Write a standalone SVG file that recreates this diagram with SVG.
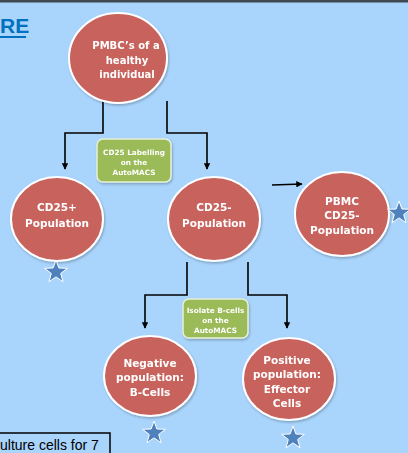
<svg xmlns="http://www.w3.org/2000/svg" width="408" height="453" viewBox="0 0 408 453">
<defs>
<style>
.node ellipse{fill:#c8625c;stroke:#ffffff;stroke-width:2}
.nt{font-family:"DejaVu Sans",Verdana,sans-serif;font-weight:bold;font-size:10.5px;fill:#ffffff;text-anchor:middle}
.box rect{fill:#9bbb59;stroke:#e6f0d6;stroke-width:1.5}
.bt{font-family:"DejaVu Sans",Verdana,sans-serif;font-weight:bold;font-size:7.3px;fill:#ffffff;text-anchor:middle}
.conn{fill:none;stroke:#000000;stroke-width:1.6}
.star{fill:#4f81bd;stroke:#ffffff;stroke-width:1}
</style>
<marker id="ah" viewBox="0 0 10 10" refX="9" refY="5" markerWidth="4" markerHeight="4" orient="auto">
<path d="M0,0 L10,5 L0,10 Z" fill="#000"/>
</marker>
<path id="st" d="M0,-12 L2.9,-4 L11.4,-3.7 L4.7,1.5 L7,9.7 L0,4.9 L-7,9.7 L-4.7,1.5 L-11.4,-3.7 L-2.9,-4 Z"/>
<filter id="sh" x="-20%" y="-20%" width="140%" height="140%">
<feDropShadow dx="1" dy="1.5" stdDeviation="1.2" flood-color="#000" flood-opacity="0.25"/>
</filter>
</defs>
<rect x="0" y="0" width="408" height="453" fill="#a9d4fc"/>
<rect x="0" y="0" width="408" height="2.5" fill="#404850"/>
<g id="title">
<text x="0" y="33" font-family="'Liberation Sans',Arial,sans-serif" font-weight="bold" font-size="21px" fill="#0070c0">RE</text>
<rect x="0" y="36" width="26" height="2" fill="#0070c0"/>
</g>
<g id="connectors">
<polyline class="conn" points="103,101 103,133 65,133 65,169" marker-end="url(#ah)"/>
<polyline class="conn" points="167,101 167,133 207,133 207,169" marker-end="url(#ah)"/>
<line class="conn" x1="272" y1="185" x2="302" y2="184" marker-end="url(#ah)"/>
<polyline class="conn" points="187,262 187,295 145,295 145,328" marker-end="url(#ah)"/>
<polyline class="conn" points="248,262 248,295 287,295 287,328" marker-end="url(#ah)"/>
</g>
<g id="n-pmbc" class="node" filter="url(#sh)">
<ellipse cx="118" cy="58" rx="49" ry="45"/>
<text class="nt" x="126" y="49" style="font-size:10px">PMBC’s of a</text>
<text class="nt" x="127" y="64" style="font-size:10px">healthy</text>
<text class="nt" x="127" y="78" style="font-size:10px">individual</text>
</g>
<g id="box1" class="box" filter="url(#sh)">
<rect x="97" y="139" width="74" height="43" rx="6"/>
<text class="bt" x="134" y="155">CD25 Labelling</text>
<text class="bt" x="134" y="165">on the</text>
<text class="bt" x="134" y="175">AutoMACS</text>
</g>
<g id="n-cd25plus" class="node" filter="url(#sh)">
<ellipse cx="57" cy="219" rx="46" ry="42"/>
<text class="nt" x="57" y="211">CD25+</text>
<text class="nt" x="57" y="227">Population</text>
</g>
<g id="n-cd25minus" class="node" filter="url(#sh)">
<ellipse cx="214" cy="219" rx="46" ry="42"/>
<text class="nt" x="214" y="211">CD25-</text>
<text class="nt" x="214" y="227">Population</text>
</g>
<g id="n-pbmc" class="node" filter="url(#sh)">
<ellipse cx="342" cy="214" rx="47" ry="42"/>
<text class="nt" x="342" y="205">PBMC</text>
<text class="nt" x="342" y="219">CD25-</text>
<text class="nt" x="342" y="234">Population</text>
</g>
<g id="box2" class="box" filter="url(#sh)">
<rect x="183" y="299" width="65" height="39" rx="6"/>
<text class="bt" x="215.5" y="313">Isolate B-cells</text>
<text class="bt" x="215.5" y="323">on the</text>
<text class="bt" x="215.5" y="333">AutoMACS</text>
</g>
<g id="n-negative" class="node" filter="url(#sh)">
<ellipse cx="150" cy="376" rx="46" ry="40"/>
<text class="nt" x="150" y="367">Negative</text>
<text class="nt" x="150" y="381">population:</text>
<text class="nt" x="150" y="396">B-Cells</text>
</g>
<g id="n-positive" class="node" filter="url(#sh)">
<ellipse cx="289" cy="379" rx="46" ry="41"/>
<text class="nt" x="287" y="364">Positive</text>
<text class="nt" x="287" y="378">population:</text>
<text class="nt" x="287" y="393">Effector</text>
<text class="nt" x="287" y="407">Cells</text>
</g>
<g id="stars">
<use href="#st" class="star" x="56" y="272"/>
<use href="#st" class="star" x="399" y="213"/>
<use href="#st" class="star" x="154" y="433"/>
<use href="#st" class="star" x="293" y="438"/>
</g>
<g id="culture-box">
<rect x="-2" y="433" width="112" height="23" fill="#a9d4fc" stroke="#000" stroke-width="1.5"/>
<text x="0" y="450" font-family="'Liberation Sans',Arial,sans-serif" font-size="14px" fill="#000">ulture cells for 7</text>
</g>
</svg>
